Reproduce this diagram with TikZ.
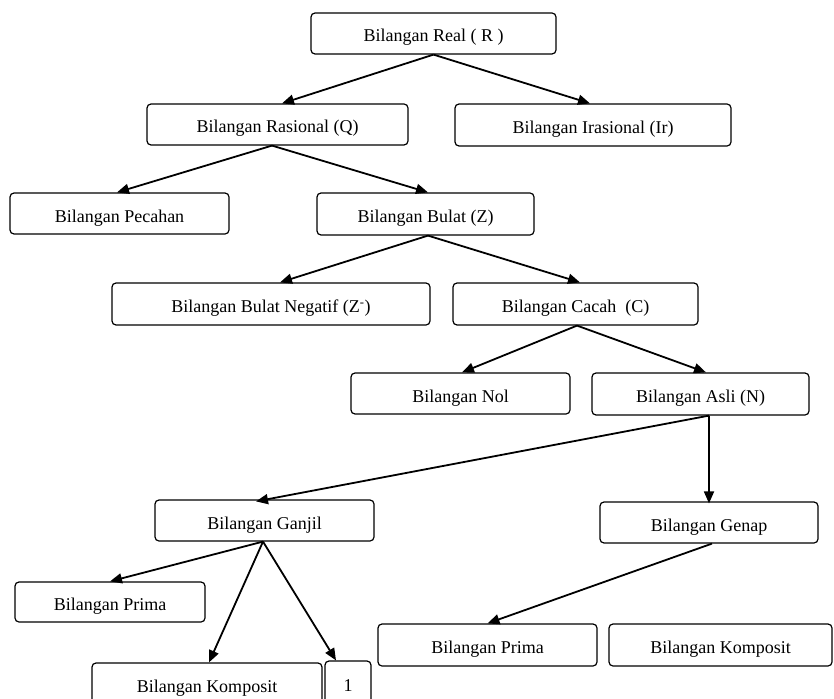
\documentclass[tikz,border=0pt]{standalone}
\usepackage{fontspec}
\setmainfont{Liberation Serif}
\usetikzlibrary{arrows.meta}
\begin{document}
\begin{tikzpicture}[x=1bp,y=-1bp,
  box/.style={draw=black,line width=1.2bp,rounded corners=4bp,inner sep=0pt,
    text height=17bp,text depth=0bp,
    font=\fontsize{18bp}{20bp}\selectfont,text=black},
  arr/.style={line width=1.8bp,-{Triangle[length=12bp,width=10bp]}}]
\clip (0,0) rectangle (834,699);
\fill[white] (0,0) rectangle (834,699);
\node[box,minimum width=245bp,minimum height=41bp] (real) at (433.5,33.5) {Bilangan Real ( R )};
\node[box,minimum width=261bp,minimum height=41bp] (ras) at (277.5,124.5) {Bilangan Rasional (Q)};
\node[box,minimum width=276bp,minimum height=42bp] (iras) at (593,125) {Bilangan Irasional (Ir)};
\node[box,minimum width=219bp,minimum height=41bp] (pec) at (119.5,213.5) {Bilangan Pecahan};
\node[box,minimum width=217bp,minimum height=42bp] (bul) at (425.5,214) {Bilangan Bulat (Z)};
\node[box,minimum width=318bp,minimum height=42bp] (neg) at (271,304) {Bilangan Bulat Negatif (Z\textsuperscript{-})};
\node[box,minimum width=245bp,minimum height=42bp] (cac) at (575.5,304) {Bilangan Cacah~ (C)};
\node[box,minimum width=219bp,minimum height=41bp] (nol) at (460.5,393.5) {Bilangan Nol};
\node[box,minimum width=217bp,minimum height=42bp] (asli) at (700.5,394) {Bilangan Asli (N)};
\node[box,minimum width=219bp,minimum height=41bp] (ganj) at (264.5,520.5) {Bilangan Ganjil};
\node[box,minimum width=218bp,minimum height=41bp] (gen) at (709,522.5) {Bilangan Genap};
\node[box,minimum width=190bp,minimum height=40bp] (primL) at (110,602) {Bilangan Prima};
\node[box,minimum width=219bp,minimum height=42bp] (primR) at (487.5,645) {Bilangan Prima};
\node[box,minimum width=223bp,minimum height=42bp] (kompR) at (720.5,645) {Bilangan Komposit};
\node[box,minimum width=230bp,minimum height=42bp] (kompL) at (207,684) {Bilangan Komposit};
\node[box,minimum width=46bp,minimum height=44bp] (one) at (348,683) {1};
\draw[arr] (real.south) -- ([xshift=4.5bp]ras.north);
\draw[arr] (real.south) -- ([xshift=-3bp]iras.north);
\draw[arr] ([xshift=-5.5bp]ras.south) -- ([xshift=-2.5bp]pec.north);
\draw[arr] ([xshift=-5.5bp]ras.south) -- ([xshift=2.5bp]bul.north);
\draw[arr] ([xshift=2.5bp]bul.south) -- ([xshift=9bp]neg.north);
\draw[arr] ([xshift=2.5bp]bul.south) -- ([xshift=4.5bp]cac.north);
\draw[arr] ([xshift=1.5bp]cac.south) -- ([xshift=1.5bp]nol.north);
\draw[arr] ([xshift=1.5bp]cac.south) -- ([xshift=5.5bp]asli.north);
\draw[arr] ([xshift=8.5bp]asli.south) -- ([xshift=-8.5bp,yshift=-2bp]ganj.north);
\draw[arr] ([xshift=8.5bp]asli.south) -- ([yshift=-2bp]gen.north);
\draw[arr] ([xshift=-1.5bp]ganj.south) -- (primL.north);
\draw[arr] ([xshift=-1.5bp]ganj.south) -- ([xshift=2bp]kompL.north);
\draw[arr] ([xshift=-1.5bp]ganj.south) -- ([xshift=-12bp]one.north);
\draw[arr] ([xshift=3bp]gen.south) -- (primR.north);
\end{tikzpicture}
\end{document}
